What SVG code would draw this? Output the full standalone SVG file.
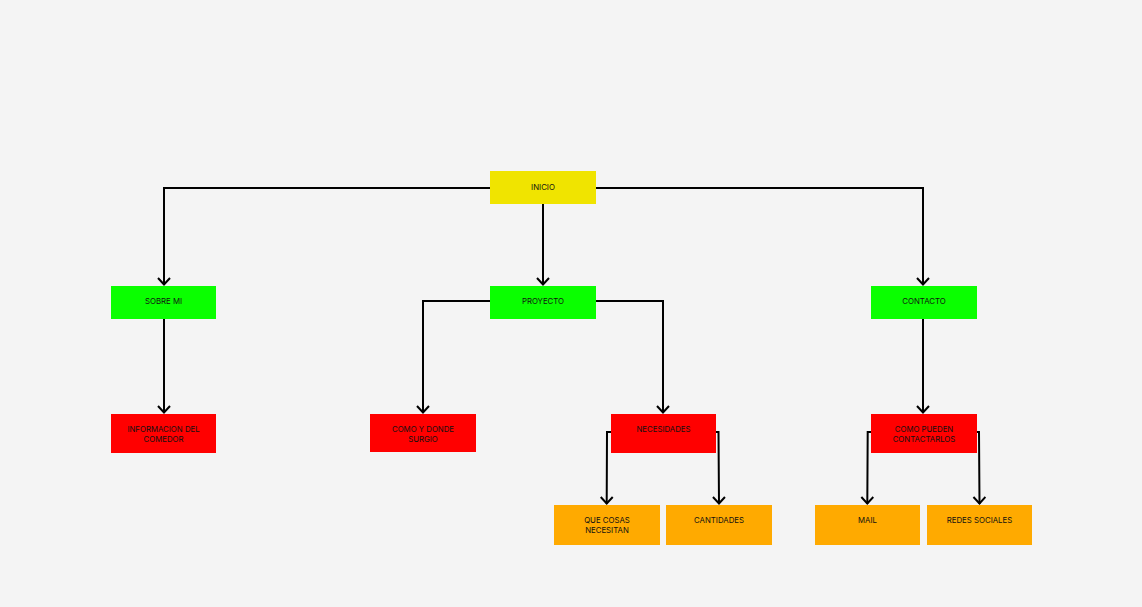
<svg xmlns="http://www.w3.org/2000/svg" width="1142" height="607" viewBox="0 0 1142 607">
<style>
.y{fill:#f0e400}.g{fill:#0aff00}.r{fill:#ff0000}.o{fill:#ffaa00}
text{font-family:Inter,"Liberation Sans",sans-serif;font-size:7.8px;fill:#111;text-anchor:middle}
.c path{fill:none;stroke:#000;stroke-width:2}
</style>
<defs>
<marker id="ah" viewBox="0 0 10 14" refX="8.5" refY="7" markerWidth="10" markerHeight="14" markerUnits="userSpaceOnUse" orient="auto">
<path d="M1.5,1 L8,7 L1.5,13" fill="none" stroke="#000" stroke-width="2"/>
</marker>
</defs>
<rect width="1142" height="607" fill="#f4f4f4"/>
<g class="c">
<path d="M490,188 H164 V285" marker-end="url(#ah)"/>
<path d="M596,188 H923 V285" marker-end="url(#ah)"/>
<path d="M543,204 V285" marker-end="url(#ah)"/>
<path d="M164,319 V413" marker-end="url(#ah)"/>
<path d="M490,301 H423 V413" marker-end="url(#ah)"/>
<path d="M596,301 H663 V413" marker-end="url(#ah)"/>
<path d="M923,319 V413" marker-end="url(#ah)"/>
<path d="M611,432 H607 L606.7,504" marker-end="url(#ah)"/>
<path d="M716,432 H718.5 L719,504" marker-end="url(#ah)"/>
<path d="M871,432 H867.7 L867.3,504" marker-end="url(#ah)"/>
<path d="M977,432 H979 L979.5,504" marker-end="url(#ah)"/>
</g>
<g id="inicio"><rect class="y" x="490" y="171" width="106" height="33"/><text x="543" y="190">INICIO</text></g>
<g id="sobre-mi"><rect class="g" x="111" y="286" width="105" height="33"/><text x="163.5" y="304">SOBRE MI</text></g>
<g id="proyecto"><rect class="g" x="490" y="286" width="106" height="33"/><text x="543" y="304">PROYECTO</text></g>
<g id="contacto"><rect class="g" x="871" y="286" width="106" height="33"/><text x="924" y="304">CONTACTO</text></g>
<g id="informacion"><rect class="r" x="111" y="414" width="105" height="39"/><text x="163.5" y="432">INFORMACION DEL</text><text x="163.5" y="442">COMEDOR</text></g>
<g id="como-donde"><rect class="r" x="370" y="414" width="106" height="38"/><text x="423" y="432">COMO Y DONDE</text><text x="423" y="442">SURGIO</text></g>
<g id="necesidades"><rect class="r" x="611" y="414" width="105" height="39"/><text x="663.5" y="432">NECESIDADES</text></g>
<g id="como-pueden"><rect class="r" x="871" y="414" width="106" height="39"/><text x="924" y="432">COMO PUEDEN</text><text x="924" y="442">CONTACTARLOS</text></g>
<g id="que-cosas"><rect class="o" x="554" y="505" width="106" height="40"/><text x="607" y="523">QUE COSAS</text><text x="607" y="533">NECESITAN</text></g>
<g id="cantidades"><rect class="o" x="666" y="505" width="106" height="40"/><text x="719" y="523">CANTIDADES</text></g>
<g id="mail"><rect class="o" x="815" y="505" width="105" height="40"/><text x="867.5" y="523">MAIL</text></g>
<g id="redes"><rect class="o" x="927" y="505" width="105" height="40"/><text x="979.5" y="523">REDES SOCIALES</text></g>
</svg>
